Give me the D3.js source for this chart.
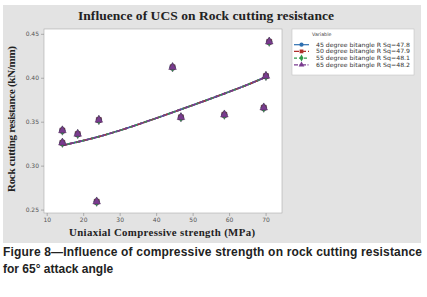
<!DOCTYPE html>
<html>
  <head>
    <script src="https://d3js.org/d3.v7.min.js"></script>
    <style>
      body { margin: 0; background: #fff; }
    </style>
  </head>
  <body>
    <div id="chart"></div>
    <script>
      // values
      var ucs = [14.3, 14.3, 18.5, 23.7, 24.3, 44.5, 46.8, 58.7, 69.5, 70.1, 71.0];
      var resistance = [0.340, 0.326, 0.336, 0.259, 0.352, 0.412, 0.355, 0.358, 0.366, 0.402, 0.441];
      // fitted line
      var fitX = [14.3, 18.5, 24.3, 30, 40, 46.8, 58.7, 65, 70.1];
      var fitY = [0.323, 0.327, 0.333, 0.340, 0.354, 0.364, 0.382, 0.392, 0.401];
      var seriesNames = ["45 degree bitangle R Sq=47.8", "50 degree bitangle R Sq=47.9",
                         "55 degree bitangle R Sq=48.1", "65 degree bitangle R Sq=48.2"];
      var seriesColors = ["#2e6fb0", "#b0302c", "#2f9a4a", "#7a3b8f"];
      var seriesDash = [null, "5,2", "3,2", "4,1.5,1,1.5"];
      var seriesSymbols = [d3.symbolCircle, d3.symbolSquare, d3.symbolDiamond, d3.symbolTriangle];
      var xTicks = [10, 20, 30, 40, 50, 60, 70];
      var yTicks = [0.25, 0.30, 0.35, 0.40, 0.45];

      var W = 427, H = 297;
      var svg = d3.select("#chart").append("svg").attr("width", W).attr("height", H);

      // grey panel
      svg.append("rect").attr("x", 3).attr("y", 5).attr("width", 418).attr("height", 238).attr("fill", "#e3e3e3");

      var plot = { left: 44, right: 282, top: 29, bottom: 213 };
      svg.append("rect")
        .attr("x", plot.left).attr("y", plot.top)
        .attr("width", plot.right - plot.left).attr("height", plot.bottom - plot.top)
        .attr("fill", "#fff").attr("stroke", "#aaa").attr("stroke-width", 0.6);

      var x = d3.scaleLinear().domain([9.26, 74.5]).range([plot.left, plot.right]);
      var y = d3.scaleLinear().domain([0.2461, 0.4555]).range([plot.bottom, plot.top]);

      var xAxis = svg.append("g").attr("transform", "translate(0," + plot.bottom + ")")
        .call(d3.axisBottom(x).tickValues(xTicks).tickSize(3).tickPadding(2).tickFormat(d3.format("d")));
      var yAxis = svg.append("g").attr("transform", "translate(" + plot.left + ",0)")
        .call(d3.axisLeft(y).tickValues(yTicks).tickSize(3).tickPadding(2).tickFormat(d3.format(".2f")));
      [xAxis, yAxis].forEach(function (a) {
        a.select(".domain").remove();
        a.selectAll("line").attr("stroke", "#888").attr("stroke-width", 0.6);
        a.selectAll("text").attr("fill", "#555").style("font-family", "DejaVu Sans").style("font-size", "6px");
      });

      // fitted lines, one per series (they overlap)
      var line = d3.line().x(function (d) { return x(d[0]); }).y(function (d) { return y(d[1]); }).curve(d3.curveMonotoneX);
      var fitData = fitX.map(function (v, i) { return [v, fitY[i]]; });
      seriesNames.forEach(function (name, s) {
        svg.append("path").datum(fitData)
          .attr("d", line)
          .attr("fill", "none")
          .attr("stroke", seriesColors[s])
          .attr("stroke-width", 1.7)
          .attr("stroke-dasharray", seriesDash[s]);
      });

      // points, drawn per series (the last one ends on top)
      seriesNames.forEach(function (name, s) {
        svg.append("g").selectAll("path")
          .data(ucs)
          .enter()
          .append("path")
          .attr("transform", function (d, i) { return "translate(" + x(d) + "," + y(resistance[i]) + ")"; })
          .attr("d", d3.symbol().type(seriesSymbols[s]).size(26))
          .attr("fill", seriesColors[s])
          .attr("stroke", "#4a2a55")
          .attr("stroke-width", 0.4);
      });

      // title
      svg.append("text")
        .text("Influence of UCS on Rock cutting resistance")
        .attr("x", 206).attr("y", 20)
        .attr("text-anchor", "middle")
        .attr("textLength", 256)
        .style("font-family", "Liberation Serif").style("font-weight", "bold").style("font-size", "13.5px")
        .attr("fill", "#222");

      // axis titles
      svg.append("text")
        .text("Uniaxial Compressive strength (MPa)")
        .attr("x", 162).attr("y", 236)
        .attr("text-anchor", "middle")
        .attr("textLength", 186)
        .style("font-family", "Liberation Serif").style("font-weight", "bold").style("font-size", "10.8px")
        .attr("fill", "#222");
      svg.append("text")
        .text("Rock cutting resistance (kN/mm)")
        .attr("transform", "translate(15,119) rotate(-90)")
        .attr("text-anchor", "middle")
        .attr("textLength", 146)
        .style("font-family", "Liberation Serif").style("font-weight", "bold").style("font-size", "11px")
        .attr("fill", "#222");

      // legend
      var lg = svg.append("g").attr("transform", "translate(292,29)");
      lg.append("rect").attr("width", 122).attr("height", 46).attr("fill", "#fff").attr("stroke", "#bbb").attr("stroke-width", 0.5);
      lg.append("text").text("Variable").attr("x", 20).attr("y", 7)
        .style("font-family", "DejaVu Sans").style("font-size", "4.8px").attr("fill", "#444");
      var items = lg.selectAll("g.item").data(seriesNames).enter().append("g")
        .attr("transform", function (d, i) { return "translate(0," + (15.7 + i * 6.7) + ")"; });
      items.append("line").attr("x1", 2).attr("x2", 17).attr("y1", 0).attr("y2", 0)
        .attr("stroke", function (d, i) { return seriesColors[i]; })
        .attr("stroke-width", 1.2)
        .attr("stroke-dasharray", function (d, i) { return seriesDash[i]; });
      items.append("path").attr("transform", "translate(9.5,0)")
        .attr("d", function (d, i) { return d3.symbol().type(seriesSymbols[i]).size(14)(); })
        .attr("fill", function (d, i) { return seriesColors[i]; });
      items.append("text").text(function (d) { return d; })
        .attr("x", 24).attr("y", 2)
        .attr("textLength", 94)
        .attr("lengthAdjust", "spacingAndGlyphs")
        .style("font-family", "DejaVu Sans").style("font-size", "5.8px").attr("fill", "#333");

      // caption
      var cap = svg.append("text")
        .style("font-family", "Liberation Sans").style("font-weight", "bold").style("font-size", "12px")
        .attr("fill", "#222");
      cap.append("tspan").attr("x", 3).attr("y", 256).attr("textLength", 419)
        .text("Figure 8\u2014Influence of compressive strength on rock cutting resistance");
      cap.append("tspan").attr("x", 3).attr("y", 273)
        .text("for 65\u00b0 attack angle");
    </script>
  </body>
</html>
